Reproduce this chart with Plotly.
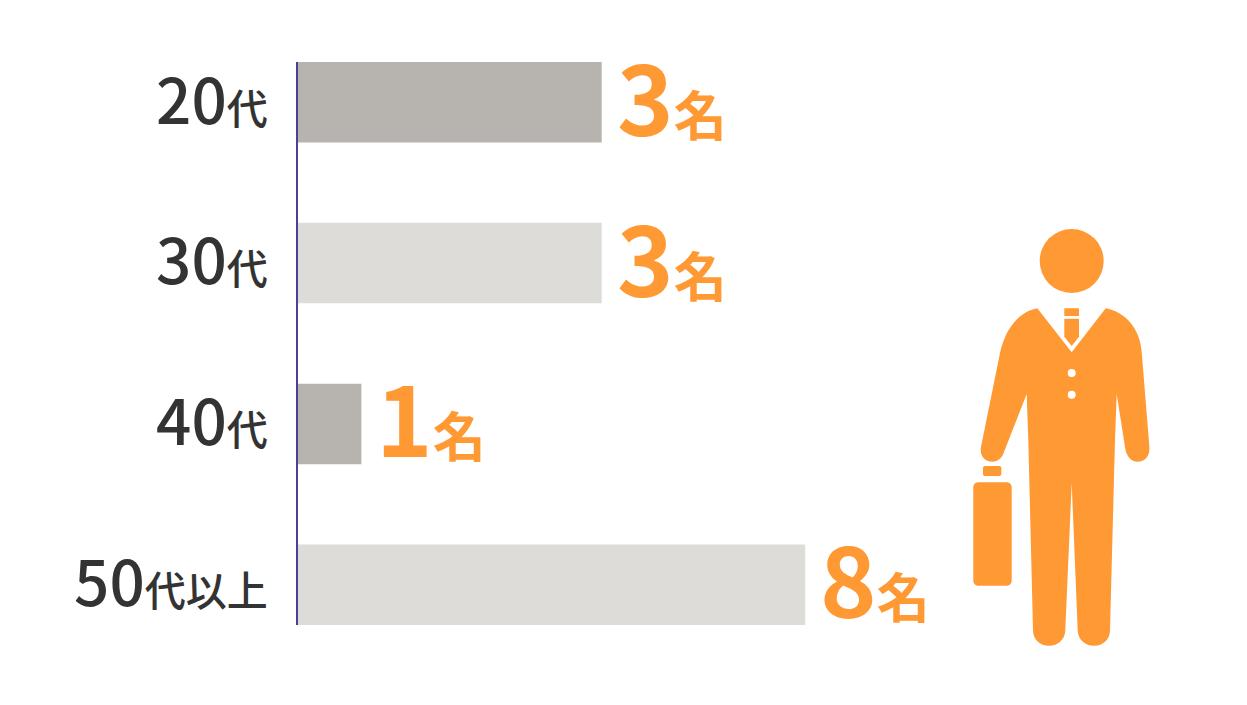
import plotly.graph_objects as go

categories = ["20代", "30代", "40代", "50代以上"]
bar_lengths = [4.79, 4.79, 1, 8]        # drawn lengths (the source bars are not proportional to the counts)
counts = [3, 3, 1, 8]                   # printed counts
bar_colors = ["#b7b4af", "#dddcd8", "#b7b4af", "#dddcd8"]
tick_numbers = ["20", "30", "40", "50"]
tick_suffixes = ["代", "代", "代", "代以上"]
count_unit = "名"
ORANGE = "#ff9933"
DARK = "#333333"
FONT = "Noto Sans CJK JP"

W, H = 1247, 705
L, T, B = 298, 62, 625


def X(px):
    return (px - L) / (W - L)


def Y(py):
    return (B - py) / (B - T)


def path(cmds):
    out = []
    for c in cmds:
        op, pts = c[0], c[1:]
        out.append(op + " " + " ".join(f"{X(x):.5f},{Y(y):.5f}" for x, y in pts))
    return " ".join(out) + " Z"


def ellipse(cx, cy, r, color):
    return dict(type="circle", xref="paper", yref="paper", x0=X(cx - r), x1=X(cx + r),
                y0=Y(cy + r), y1=Y(cy - r), fillcolor=color, line_width=0, layer="above")


def rrect(x0, y0, x1, y1, r, color):
    k = r * 0.45
    d = path([
        ("M", (x0 + r, y0)), ("L", (x1 - r, y0)),
        ("C", (x1 - k, y0), (x1, y0 + k), (x1, y0 + r)),
        ("L", (x1, y1 - r)),
        ("C", (x1, y1 - k), (x1 - k, y1), (x1 - r, y1)),
        ("L", (x0 + r, y1)),
        ("C", (x0 + k, y1), (x0, y1 - k), (x0, y1 - r)),
        ("L", (x0, y0 + r)),
        ("C", (x0, y0 + k), (x0 + k, y0), (x0 + r, y0)),
    ])
    return dict(type="path", xref="paper", yref="paper", path=d, fillcolor=color, line_width=0, layer="above")


body = path([
    ("M", (1037.3, 308.3)), ("L", (1071.7, 352.3)), ("L", (1105.7, 308.3)),
    ("C", (1125, 312), (1140, 328), (1141.7, 352)),
    ("L", (1149.4, 447)),
    ("C", (1150, 456), (1145, 461.7), (1137.7, 461.7)),
    ("C", (1131, 461.7), (1126, 456), (1125, 447)),
    ("L", (1116.7, 394)),
    ("L", (1115, 440)), ("L", (1110, 630)),
    ("C", (1110, 640), (1103, 645.7), (1094, 645.7)),
    ("C", (1085, 645.7), (1078, 640), (1077.7, 630)),
    ("L", (1071.7, 483)),
    ("L", (1065.3, 630)),
    ("C", (1065, 640), (1058, 645.7), (1049, 645.7)),
    ("C", (1040, 645.7), (1033, 640), (1033, 630)),
    ("L", (1028.3, 440)), ("L", (1026.7, 394)),
    ("L", (1004, 452)),
    ("C", (1002, 458), (998, 461.7), (992.3, 461.7)),
    ("C", (984, 461.7), (979.5, 455), (981, 447)),
    ("L", (1000, 353)),
    ("C", (1005, 330), (1018, 312), (1037.3, 308.3)),
])
tie = path([("M", (1064.3, 318.7)), ("L", (1079, 318.7)), ("L", (1079, 336.7)),
            ("L", (1071.7, 346)), ("L", (1064.3, 336.7))])

shapes = [
    ellipse(1071.7, 261, 32, ORANGE),
    dict(type="path", xref="paper", yref="paper", path=body, fillcolor=ORANGE, line_width=0, layer="above"),
    dict(type="path", xref="paper", yref="paper", path=tie, fillcolor=ORANGE, line_width=0, layer="above"),
    rrect(1064.3, 308.3, 1079, 316, 0.5, ORANGE),
    ellipse(1071.7, 373, 4, "#ffffff"),
    ellipse(1071.7, 394.7, 4, "#ffffff"),
    rrect(973.3, 482.3, 1011.7, 585.7, 5, ORANGE),
    rrect(983, 466, 1001.3, 476, 2, ORANGE),
]

ticktext = [
    f"<span style='font-size:62px'>{n}</span><span style='font-size:41px'>{s}</span>"
    for n, s in zip(tick_numbers, tick_suffixes)
]

fig = go.Figure(go.Bar(
    y=categories, x=bar_lengths, orientation="h", marker=dict(color=bar_colors, line_width=0),
    width=0.5, hoverinfo="skip",
))

annotations = [
    dict(x=v, y=c, xref="x", yref="y", xanchor="left", yanchor="middle", showarrow=False,
         xshift=13, yshift=8,
         text=f"<b><span style='font-size:96px'>{n}</span><span style='font-size:53px'>{count_unit}</span></b>",
         font=dict(family=FONT, color=ORANGE, size=53))
    for v, c, n in zip(bar_lengths, categories, counts)
]

fig.update_layout(
    width=W, height=H, autosize=False,
    margin=dict(l=L, r=0, t=T, b=H - B, pad=0),
    paper_bgcolor="#ffffff", plot_bgcolor="#ffffff",
    showlegend=False, shapes=shapes, annotations=annotations,
    font=dict(family=FONT, color=DARK),
    xaxis=dict(range=[0, (W - L) / 63.4], visible=False, fixedrange=True),
    yaxis=dict(
        categoryorder="array", categoryarray=categories, range=[3.25, -0.25],
        tickmode="array", tickvals=categories, ticktext=ticktext,
        tickfont=dict(family=FONT, color=DARK, size=41, weight=500),
        showline=True, linecolor="#4b3f9e", linewidth=2, ticks="", showgrid=False,
        zeroline=False, ticklabelstandoff=20, ticklabelshift=-7, fixedrange=True,
    ),
)
fig.write_html("out.html", config={"displayModeBar": False},
               post_script="document.body.style.margin='0';")
